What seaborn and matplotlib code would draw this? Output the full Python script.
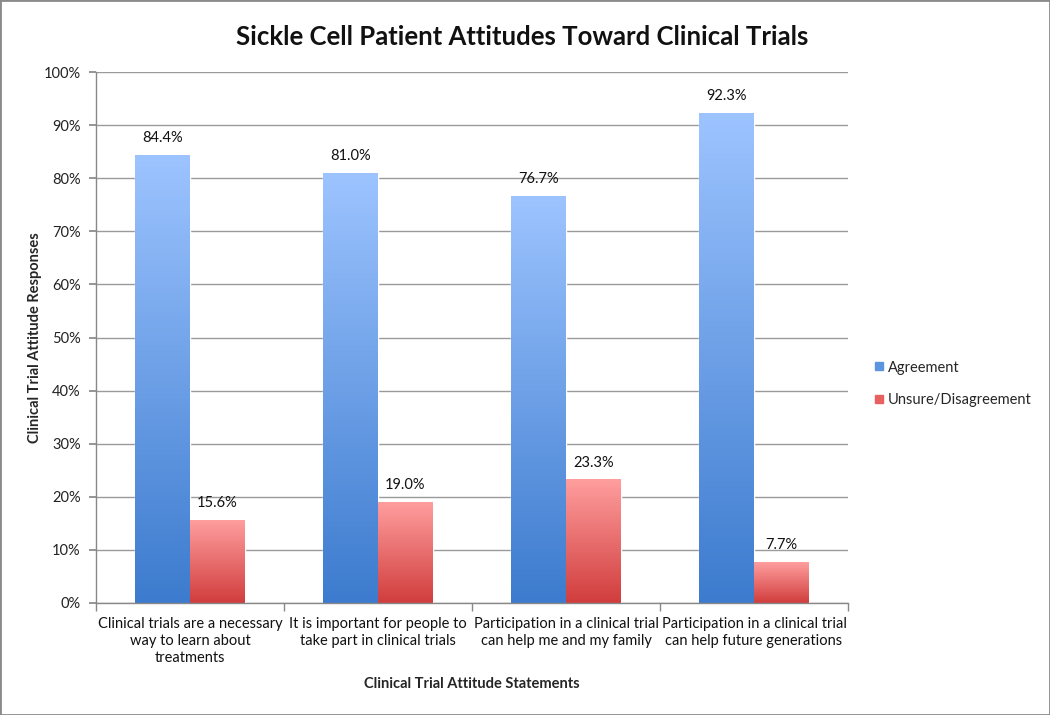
import numpy as np
import pandas as pd
import matplotlib
matplotlib.use("Agg")
import matplotlib.pyplot as plt
import seaborn as sns
from matplotlib.colors import LinearSegmentedColormap
from matplotlib.patches import Rectangle
from matplotlib.lines import Line2D

statements = [
    "Clinical trials are a necessary\nway to learn about\ntreatments",
    "It is important for people to\ntake part in clinical trials",
    "Participation in a clinical trial\ncan help me and my family",
    "Participation in a clinical trial\ncan help future generations",
]
series_names = ["Agreement", "Unsure/Disagreement"]
agreement = [84.4, 81.0, 76.7, 92.3]
unsure = [15.6, 19.0, 23.3, 7.7]
yticks = [0, 10, 20, 30, 40, 50, 60, 70, 80, 90, 100]

df = pd.DataFrame({
    "Statement": statements * 2,
    "Response": [series_names[0]] * 4 + [series_names[1]] * 4,
    "Value": agreement + unsure,
})

sns.set_theme(style="white")
plt.rcParams["font.family"] = ["Lato", "DejaVu Sans"]

fig = plt.figure(figsize=(10.5, 7.15), dpi=100)
ax = fig.add_axes([96/1050, 1-603/715, 752/1050, 531/715])

palette = {"Agreement": "#5B95E0", "Unsure/Disagreement": "#E86060"}
sns.barplot(data=df, x="Statement", y="Value", hue="Response",
            order=statements, hue_order=series_names, palette=palette,
            width=0.58, ax=ax, legend=False, saturation=1)

ax.set_xlim(-0.5, 3.5)
ax.set_ylim(0, 100)
ax.set_yticks(yticks)
ax.set_yticklabels([f"{v}%" for v in yticks], fontsize=10.5, color="#222222")
ax.yaxis.grid(True, color="#9a9a9a", linewidth=1)
ax.set_axisbelow(True)

# gradients
cmaps = {
    "Agreement": LinearSegmentedColormap.from_list("b", ["#3C7BCE", "#9DC4FF"]),
    "Unsure/Disagreement": LinearSegmentedColormap.from_list("r", ["#D13D3D", "#FF9E9E"]),
}
grad = np.linspace(0, 1, 256).reshape(-1, 1)
for container, name in zip(ax.containers, series_names):
    for patch in container.patches:
        x0, y0 = patch.get_x(), patch.get_y()
        w, h = patch.get_width(), patch.get_height()
        im = ax.imshow(grad, cmap=cmaps[name], origin="lower", aspect="auto",
                       extent=[x0, x0 + w, y0, y0 + h], zorder=patch.get_zorder() + 0.1)
        im.set_clip_path(patch)
    ax.bar_label(container, labels=[f"{v:.1f}%" for v in container.datavalues],
                 padding=7, fontsize=10.5, color="#111111")

ax.set_xticks(range(4))
ax.set_xticklabels(statements, fontsize=10.5, color="#111111", linespacing=1.3)
ax.tick_params(axis="x", length=0, pad=10)
ax.tick_params(axis="y", length=5, color="#888888", left=True, pad=6)
ax.set_xticks([0.5, 1.5, 2.5, 3.5, -0.5], minor=True)
ax.tick_params(axis="x", which="minor", length=6, color="#888888", bottom=True)

for s in ["top", "right"]:
    ax.spines[s].set_visible(False)
for s in ["left", "bottom"]:
    ax.spines[s].set_color("#888888")
    ax.spines[s].set_linewidth(1)

ax.set_xlabel("Clinical Trial Attitude Statements", fontsize=10.5, fontweight="bold",
              labelpad=8)
ax.set_ylabel("Clinical Trial Attitude Responses", fontsize=10.5, fontweight="bold",
              labelpad=1)

fig.text(522/1050, 1-37/715, "Sickle Cell Patient Attitudes Toward Clinical Trials",
         ha="center", va="center", fontsize=18.5, fontweight="bold", color="#111111")

handles = [Line2D([], [], marker="s", linestyle="", markersize=6,
                  markerfacecolor=palette[n], markeredgecolor=palette[n]) for n in series_names]
fig.legend(handles, series_names, loc="center left", bbox_to_anchor=(860/1050, 1-384/715),
           frameon=False, fontsize=10.5, handletextpad=0.2, labelspacing=1.3,
           handlelength=0.8)

fig.patches.append(Rectangle((0, 0), 1, 1, transform=fig.transFigure, fill=False,
                             edgecolor="#8a8a8a", linewidth=2))

fig.savefig("out.png", dpi=100)
